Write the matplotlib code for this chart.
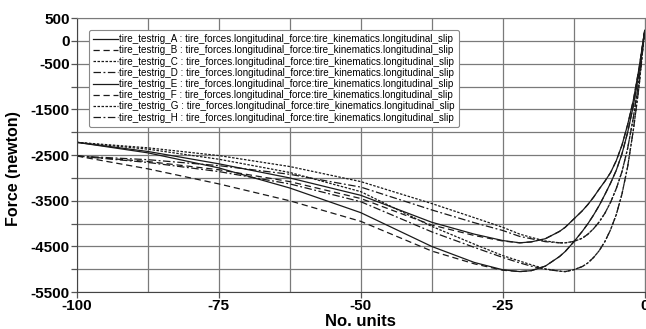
import matplotlib
matplotlib.use("Agg")
import matplotlib.pyplot as plt
from matplotlib.ticker import FixedLocator

plt.rcParams['font.family'] = ['Liberation Sans', 'DejaVu Sans']

x = [-100, -87.5, -75, -62.5, -50, -37.5, -30, -25, -22, -20, -17.5, -15, -14,
     -12.5, -11, -10, -9, -8, -7, -6, -5, -4, -3, -2, -1, 0]

tire_A = [-2220, -2420, -2690, -3000, -3380, -3970, -4230, -4370, -4420, -4400, -4330, -4170, -4080,
          -3900, -3720, -3580, -3420, -3240, -3070, -2880, -2620, -2280, -1830, -1300, -600, 230]
tire_B = [-2520, -2640, -2820, -3080, -3450, -4030, -4260, -4380, -4420, -4400, -4330, -4170, -4080,
          -3900, -3720, -3580, -3420, -3240, -3070, -2880, -2620, -2280, -1830, -1300, -600, 230]
tire_C = [-2220, -2340, -2510, -2750, -3080, -3560, -3870, -4080, -4230, -4300, -4380, -4420, -4420,
          -4390, -4320, -4230, -4110, -3960, -3770, -3530, -3230, -2860, -2350, -1680, -850, 230]
tire_D = [-2520, -2600, -2730, -2920, -3200, -3700, -3980, -4150, -4280, -4330, -4395, -4420, -4420,
          -4390, -4320, -4230, -4110, -3960, -3770, -3530, -3230, -2860, -2350, -1680, -850, 230]
tire_E = [-2220, -2450, -2780, -3220, -3760, -4500, -4850, -5010, -5050, -5030, -4930, -4720, -4610,
          -4400, -4170, -4000, -3810, -3600, -3360, -3110, -2830, -2470, -2000, -1420, -680, 230]
tire_F = [-2520, -2800, -3130, -3500, -3950, -4600, -4880, -5020, -5050, -5030, -4930, -4720, -4610,
          -4400, -4170, -4000, -3810, -3600, -3360, -3110, -2830, -2470, -2000, -1420, -680, 230]
tire_G = [-2220, -2370, -2590, -2880, -3300, -4060, -4450, -4700, -4820, -4900, -4990, -5040, -5050,
          -5010, -4940, -4860, -4740, -4590, -4390, -4130, -3800, -3350, -2750, -1950, -1000, 230]
tire_H = [-2520, -2660, -2860, -3130, -3520, -4180, -4520, -4740, -4860, -4930, -5000, -5040, -5050,
          -5010, -4940, -4860, -4740, -4590, -4390, -4130, -3800, -3350, -2750, -1950, -1000, 230]

names = ["tire_testrig_A", "tire_testrig_B", "tire_testrig_C", "tire_testrig_D",
         "tire_testrig_E", "tire_testrig_F", "tire_testrig_G", "tire_testrig_H"]
series = [tire_A, tire_B, tire_C, tire_D, tire_E, tire_F, tire_G, tire_H]
suffix = " : tire_forces.longitudinal_force:tire_kinematics.longitudinal_slip"

y_major = [500, 0, -500, -1500, -2500, -3500, -4500, -5500]
y_grid = [500, 0, -500, -1000, -1500, -2000, -2500, -3000, -3500, -4000, -4500, -5000, -5500]
x_major = [-100, -75, -50, -25, 0]
x_grid = [-87.5, -62.5, -37.5, -12.5]

styles = ['-', (0, (5, 3)), (0, (2, 1.2)), (0, (6, 2, 1.5, 2))]

fig = plt.figure(figsize=(6.46, 3.29), dpi=100)
ax = fig.add_axes([0.119, 0.112, 0.879, 0.833])

for i, (n, s) in enumerate(zip(names, series)):
    ax.plot(x, s, color='#1a1a1a', lw=0.9, linestyle=styles[i % 4], label=n + suffix)

ax.set_xlim(-100, 0)
ax.set_ylim(-5500, 500)

ax.yaxis.set_major_locator(FixedLocator(y_grid))
ax.set_yticklabels([str(v) if v in y_major else "" for v in y_grid])
ax.xaxis.set_major_locator(FixedLocator(x_major))
ax.xaxis.set_minor_locator(FixedLocator(x_grid))
ax.set_xticklabels([str(int(v)) for v in x_major])

ax.grid(True, which='both', color='#7a7a7a', lw=0.9)
ax.set_axisbelow(True)
ax.tick_params(axis='both', which='major', length=4, width=0.9, color='#555555', pad=1)
ax.tick_params(axis='x', which='minor', length=0)
for lab in ax.get_xticklabels() + ax.get_yticklabels():
    lab.set_fontweight('bold')
    lab.set_fontsize(11)
for sp in ax.spines.values():
    sp.set_color('#7a7a7a')
ax.spines['left'].set_color('#444444')
ax.spines['bottom'].set_color('#444444')

ax.set_xlabel("No. units", fontsize=12, fontweight='bold', labelpad=0.5)
ax.set_ylabel("Force (newton)", fontsize=11.5, fontweight='bold')
ax.yaxis.set_label_coords(-0.098, 0.45)

leg = ax.legend(loc='upper left', bbox_to_anchor=(0.012, 0.975), fontsize=7.1, handlelength=2.5,
                handletextpad=0.1, labelspacing=0.12, borderpad=0.45, frameon=True, fancybox=True,
                framealpha=1)
leg.get_frame().set_edgecolor('#888888')
leg.get_frame().set_linewidth(0.8)

fig.savefig("out.png", dpi=100)
